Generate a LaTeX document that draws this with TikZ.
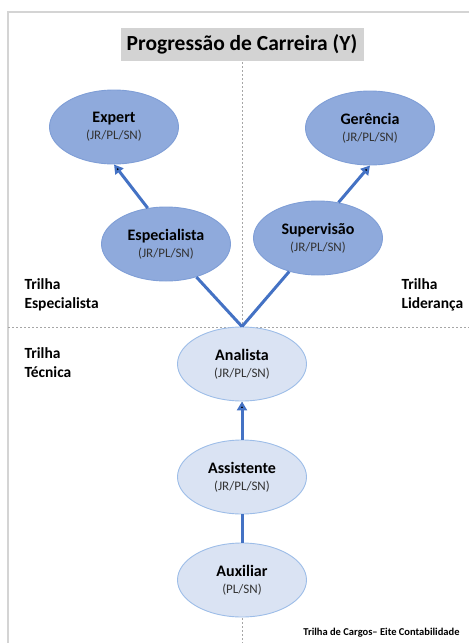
\documentclass[tikz,border=0pt]{standalone}
\usepackage{fontspec}
\setmainfont{Carlito}
\usepackage{xcolor}
\usetikzlibrary{shapes.geometric,arrows.meta}

\definecolor{azulEscuro}{HTML}{8FAADC}
\definecolor{bordaEscura}{HTML}{7F9ED6}
\definecolor{azulClaro}{HTML}{DAE3F3}
\definecolor{bordaClara}{HTML}{9DBDE8}
\definecolor{seta}{HTML}{4472C4}
\definecolor{moldura}{HTML}{D4D4D4}
\definecolor{tracejado}{HTML}{A6A6A6}
\definecolor{fundoTitulo}{HTML}{D3D3D3}

\newcommand{\cargo}[2]{{\fontsize{16}{17}\selectfont\bfseries #1}\\{\color{black!80}#2}}

\begin{document}
\begin{tikzpicture}[x=1pt,y=-1pt,>={Triangle[length=9pt,width=10pt]},
    line width=3pt,
    cargo node/.style={ellipse,draw,line width=0.9pt,minimum width=129pt,minimum height=74pt,inner sep=0pt,align=center,font=\fontsize{13}{17}\selectfont},
    alto node/.style={cargo node,fill=azulEscuro,draw=bordaEscura},
    base node/.style={cargo node,fill=azulClaro,draw=bordaClara},
    trilha/.style={anchor=north west,align=left,inner sep=0pt,font=\fontsize{15.5}{19}\selectfont\bfseries}]

    \useasboundingbox (0,0) rectangle (469,643);

    % moldura e divisorias
    \draw[moldura,line width=2pt] (469,12) -- (8,12) -- (8,643);
    \node[fill=fundoTitulo, minimum width=243pt, minimum height=33pt, inner sep=0pt, font=\fontsize{21.5}{24}\selectfont\bfseries] (0) at (242,44) {Progressão de Carreira (Y)};
    \draw[tracejado,line width=0.8pt,dash pattern=on 2pt off 2pt] (0.south) -- (242,643);
    \draw[tracejado,line width=0.8pt,dash pattern=on 2pt off 2pt] (8,327) -- (469,327);

    \node[alto node] (1) at (114,127) {\cargo{Expert}{(JR/PL/SN)}};
    \node[alto node] (5) at (370,128) {\cargo{Gerência}{(JR/PL/SN)}};

    \node[alto node] (2) at (166,244) {\cargo{Especialista}{(JR/PL/SN)}};
    \node[alto node] (4) at (318,238) {\cargo{Supervisão}{(JR/PL/SN)}};

    \node[base node] (3) at (242,364) {\cargo{Analista}{(JR/PL/SN)}};
    \node[base node] (6) at (242,477) {\cargo{Assistente}{(JR/PL/SN)}};
    \node[base node] (7) at (242,580) {\cargo{Auxiliar}{(PL/SN)}};

    \node[trilha] (t1) at (23,277) {Trilha\\Especialista};
    \node[trilha] (t2) at (400,277) {Trilha\\Liderança};
    \node[trilha] (t3) at (23,346) {Trilha\\Técnica};

    \node[anchor=base east, inner sep=0pt, font=\fontsize{10.5}{12}\selectfont\bfseries] (8) at (461,635) {Trilha de Cargos– Eite Contabilidade};

    \path[draw=seta]
        (2.117) edge[->] (1.south)
        (4.60) edge[->] (5.south)
        (3.north) edge (2)
        (3.north) edge (4)
        (6) edge[->] (3)
        (7) edge (6)
        ;
\end{tikzpicture}
\end{document}
